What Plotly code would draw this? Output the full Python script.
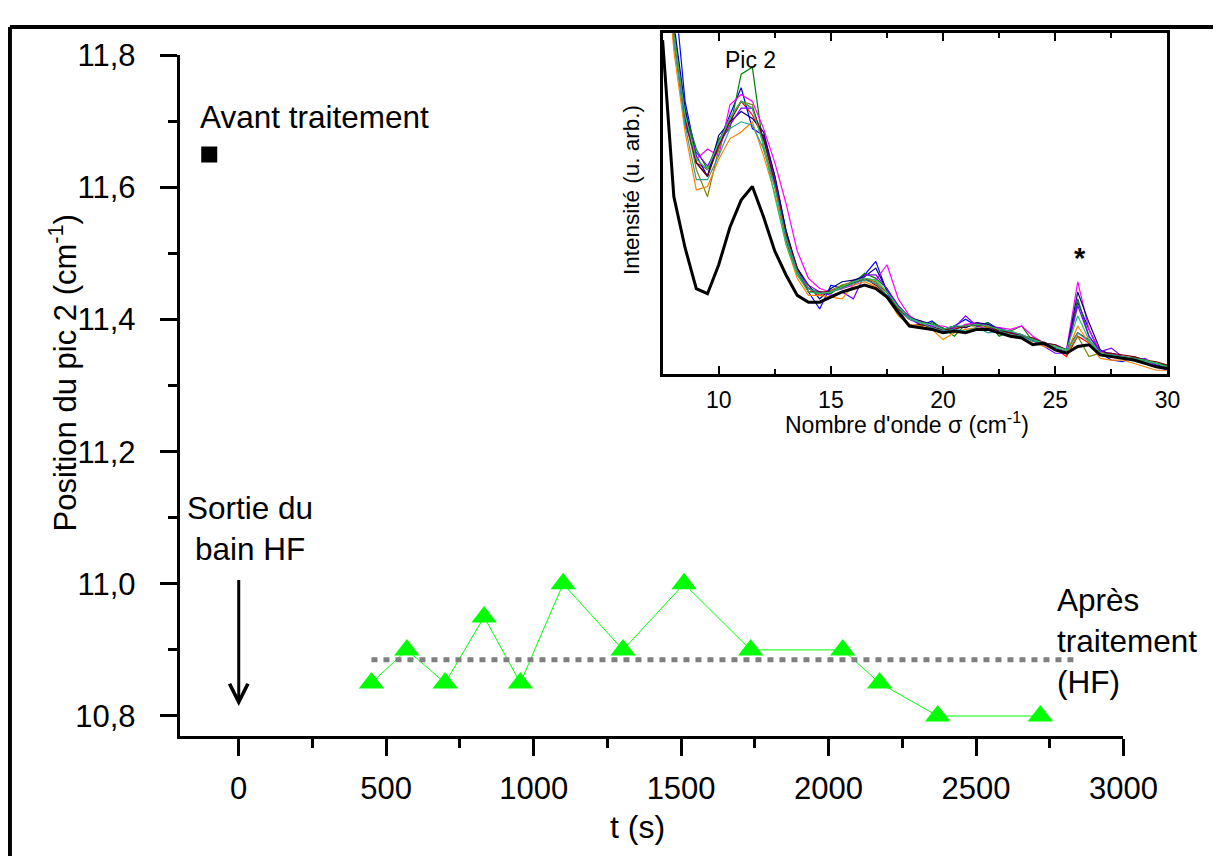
import plotly.graph_objects as go

# ---------------- main panel data ----------------
t_before = [-100]
pos_before = [11.65]

t_after = [450, 570, 700, 832, 955, 1100, 1303, 1510, 1736, 2048, 2173, 2370, 2718]
pos_after = [10.85, 10.90, 10.85, 10.95, 10.85, 11.00, 10.90, 11.00, 10.90, 10.90, 10.85, 10.80, 10.80]

mean_t = [450, 2850]
mean_pos = [10.885, 10.885]

arrow_t = 0
arrow_from = 11.008
arrow_to = 10.815

# ---------------- inset spectra ----------------
sigma = [7.5, 8.0, 8.5, 9.0, 9.5, 10.0, 10.5, 11.0, 11.5, 12.0, 12.5, 13.0, 13.5, 14.0, 14.5,
         15.0, 15.5, 16.0, 16.5, 17.0, 17.5, 18.0, 18.5, 19.0, 19.5, 20.0, 20.5, 21.0, 21.5,
         22.0, 22.5, 23.0, 23.5, 24.0, 24.5, 25.0, 25.5, 26.0, 26.5, 27.0, 27.5, 28.0, 28.5,
         29.0, 29.5, 30.0]

spec_before = [0.98, 0.52, 0.37, 0.25, 0.235, 0.32, 0.43, 0.51, 0.55, 0.46, 0.36, 0.29, 0.23, 0.21, 0.21,
               0.225, 0.24, 0.25, 0.26, 0.25, 0.225, 0.18, 0.14, 0.135, 0.13, 0.12, 0.125, 0.12, 0.13,
               0.13, 0.12, 0.11, 0.105, 0.085, 0.09, 0.07, 0.06, 0.08, 0.085, 0.055, 0.05, 0.045, 0.04,
               0.03, 0.02, 0.015]

spec_red = [1.38, 0.98, 0.74, 0.62, 0.60, 0.66, 0.75, 0.80, 0.76, 0.69, 0.57, 0.41, 0.31, 0.25, 0.23,
            0.245, 0.25, 0.275, 0.28, 0.265, 0.24, 0.19, 0.16, 0.155, 0.135, 0.125, 0.14, 0.135, 0.15,
            0.135, 0.125, 0.12, 0.11, 0.10, 0.085, 0.075, 0.05, 0.11, 0.09, 0.055, 0.05, 0.045, 0.04,
            0.03, 0.02, 0.015]
spec_blue = [1.45, 1.15, 0.80, 0.64, 0.58, 0.68, 0.76, 0.84, 0.72, 0.70, 0.58, 0.42, 0.30, 0.24, 0.19,
             0.26, 0.25, 0.27, 0.29, 0.33, 0.24, 0.18, 0.17, 0.14, 0.155, 0.13, 0.14, 0.16, 0.14,
             0.15, 0.13, 0.125, 0.11, 0.10, 0.09, 0.085, 0.07, 0.21, 0.13, 0.06, 0.04, 0.035, 0.05,
             0.04, 0.025, 0.02]
spec_green = [1.36, 1.01, 0.77, 0.66, 0.60, 0.69, 0.72, 0.88, 0.90, 0.66, 0.55, 0.39, 0.29, 0.25, 0.24,
              0.235, 0.26, 0.265, 0.295, 0.28, 0.25, 0.19, 0.17, 0.14, 0.15, 0.135, 0.11, 0.145, 0.14,
              0.15, 0.11, 0.125, 0.14, 0.095, 0.09, 0.075, 0.065, 0.22, 0.11, 0.065, 0.06, 0.05, 0.04,
              0.04, 0.03, 0.025]
spec_magenta = [1.34, 0.99, 0.74, 0.63, 0.66, 0.64, 0.79, 0.82, 0.80, 0.72, 0.62, 0.50, 0.36, 0.28, 0.25,
                0.24, 0.25, 0.26, 0.28, 0.275, 0.32, 0.22, 0.17, 0.15, 0.14, 0.14, 0.13, 0.145, 0.15,
                0.14, 0.135, 0.13, 0.14, 0.11, 0.09, 0.08, 0.07, 0.27, 0.13, 0.065, 0.06, 0.05, 0.045,
                0.04, 0.02, 0.01]
spec_olive = [1.33, 0.97, 0.76, 0.60, 0.52, 0.66, 0.75, 0.80, 0.79, 0.67, 0.55, 0.41, 0.30, 0.25, 0.235,
              0.245, 0.26, 0.27, 0.28, 0.27, 0.23, 0.185, 0.16, 0.15, 0.13, 0.13, 0.135, 0.14, 0.14,
              0.135, 0.13, 0.115, 0.11, 0.10, 0.085, 0.075, 0.06, 0.11, 0.05, 0.06, 0.055, 0.045, 0.05,
              0.035, 0.03, 0.02]
spec_navy = [1.37, 1.03, 0.78, 0.62, 0.58, 0.70, 0.74, 0.77, 0.75, 0.71, 0.58, 0.42, 0.31, 0.26, 0.22,
             0.25, 0.27, 0.275, 0.285, 0.31, 0.245, 0.20, 0.165, 0.155, 0.145, 0.13, 0.14, 0.135, 0.15,
             0.145, 0.13, 0.12, 0.115, 0.095, 0.085, 0.07, 0.065, 0.24, 0.15, 0.07, 0.055, 0.05, 0.045,
             0.04, 0.03, 0.02]
spec_purple = [1.35, 1.00, 0.73, 0.65, 0.61, 0.67, 0.73, 0.78, 0.78, 0.69, 0.57, 0.40, 0.30, 0.26, 0.24,
               0.23, 0.24, 0.22, 0.29, 0.29, 0.25, 0.20, 0.16, 0.145, 0.14, 0.125, 0.135, 0.17, 0.14,
               0.13, 0.135, 0.12, 0.115, 0.10, 0.08, 0.06, 0.06, 0.20, 0.11, 0.065, 0.075, 0.05, 0.04,
               0.045, 0.025, 0.01]
spec_wine = [1.36, 1.00, 0.75, 0.62, 0.58, 0.67, 0.74, 0.80, 0.78, 0.69, 0.56, 0.41, 0.31, 0.24, 0.24,
             0.24, 0.255, 0.265, 0.28, 0.26, 0.23, 0.19, 0.14, 0.145, 0.135, 0.13, 0.13, 0.14, 0.145,
             0.14, 0.125, 0.12, 0.11, 0.105, 0.09, 0.085, 0.07, 0.12, 0.10, 0.06, 0.06, 0.055, 0.05,
             0.04, 0.035, 0.025]
spec_orange = [1.32, 0.95, 0.71, 0.54, 0.55, 0.63, 0.69, 0.71, 0.74, 0.64, 0.53, 0.38, 0.28, 0.23, 0.23,
               0.225, 0.22, 0.26, 0.27, 0.255, 0.225, 0.17, 0.145, 0.14, 0.13, 0.10, 0.12, 0.13, 0.135,
               0.13, 0.12, 0.115, 0.105, 0.09, 0.08, 0.07, 0.06, 0.14, 0.09, 0.045, 0.04, 0.04, 0.03,
               0.02, 0.01, 0.01]
spec_teal = [1.34, 0.98, 0.73, 0.57, 0.57, 0.64, 0.72, 0.74, 0.73, 0.66, 0.55, 0.40, 0.30, 0.25, 0.235,
             0.24, 0.25, 0.265, 0.275, 0.265, 0.23, 0.185, 0.16, 0.15, 0.135, 0.125, 0.13, 0.125, 0.135,
             0.12, 0.125, 0.115, 0.11, 0.095, 0.09, 0.075, 0.065, 0.12, 0.095, 0.06, 0.05, 0.045, 0.04,
             0.035, 0.03, 0.02]
spec_lime = [1.36, 1.00, 0.76, 0.63, 0.60, 0.68, 0.75, 0.80, 0.78, 0.67, 0.52, 0.38, 0.29, 0.24, 0.235,
             0.24, 0.255, 0.27, 0.28, 0.275, 0.24, 0.195, 0.165, 0.15, 0.145, 0.13, 0.14, 0.14, 0.145,
             0.14, 0.13, 0.125, 0.115, 0.10, 0.09, 0.08, 0.07, 0.17, 0.10, 0.06, 0.055, 0.05, 0.045,
             0.04, 0.03, 0.02]

treated = [
    (spec_red, "#FF0000"), (spec_blue, "#0000FF"), (spec_green, "#008000"),
    (spec_magenta, "#FF00FF"), (spec_olive, "#808000"), (spec_navy, "#000080"),
    (spec_purple, "#8000FF"), (spec_wine, "#800000"), (spec_orange, "#FF8000"),
    (spec_teal, "#2A9D9D"), (spec_lime, "#22C55E"),
]

# mapping from target screenshot pixels to figure fractions (empirical page offset/scale)
SX, SY = 0.973, 0.979
OX, OY = 8.2, 24.7
W, H = 1247, 849


def px(x):
    return ((x - OX) / SX) / W


def py(y):
    return 1 - ((y - OY) / SY) / H


FONT = "Liberation Sans, Arial, sans-serif"

fig = go.Figure()

# main traces
fig.add_trace(go.Scatter(x=t_after, y=pos_after, mode="lines+markers",
                         line=dict(color="#00FF00", width=1),
                         marker=dict(symbol="triangle-up", size=22, color="#00FF00"),
                         xaxis="x", yaxis="y", showlegend=False, cliponaxis=False))
fig.add_trace(go.Scatter(x=mean_t, y=mean_pos, mode="lines",
                         line=dict(color="#808080", width=5, dash="6px,6px"),
                         xaxis="x", yaxis="y", showlegend=False))
fig.add_trace(go.Scatter(x=t_before, y=pos_before, mode="markers",
                         marker=dict(symbol="square", size=16, color="black"),
                         xaxis="x", yaxis="y", showlegend=False))

# inset traces
for vals, col in treated:
    fig.add_trace(go.Scatter(x=sigma, y=vals, mode="lines", line=dict(color=col, width=1.2),
                             xaxis="x2", yaxis="y2", showlegend=False))
fig.add_trace(go.Scatter(x=sigma, y=spec_before, mode="lines", line=dict(color="black", width=3),
                         xaxis="x2", yaxis="y2", showlegend=False))

tickfont = dict(family=FONT, size=31, color="black")
insetfont = dict(family=FONT, size=23, color="black")

fig.update_layout(
    width=W, height=H,
    margin=dict(l=0, r=0, t=0, b=0),
    paper_bgcolor="white", plot_bgcolor="white",
    separators=", ",
    font=dict(family=FONT, color="black"),
    xaxis=dict(domain=[px(180), px(1124)], range=[-200, 3000], anchor="y",
               showline=True, linewidth=3, linecolor="black", showgrid=False, zeroline=False,
               ticks="outside", ticklen=17, tickwidth=3, tickcolor="black",
               tick0=0, dtick=500, tickfont=tickfont, ticklabelstandoff=6,
               minor=dict(ticks="outside", ticklen=9, tickwidth=3, dtick=250, tick0=0, tickcolor="black")),
    yaxis=dict(domain=[py(735), py(55)], range=[10.7697, 11.8], anchor="x",
               showline=True, linewidth=3, linecolor="black", showgrid=False, zeroline=False,
               ticks="outside", ticklen=17, tickwidth=3, tickcolor="black",
               tick0=10.8, dtick=0.2, tickformat=".1f", tickfont=tickfont, ticklabelstandoff=18,
               minor=dict(ticks="outside", ticklen=9, tickwidth=3, dtick=0.1, tick0=10.8, tickcolor="black")),
    xaxis2=dict(domain=[px(663), px(1168)], range=[7.5, 30], anchor="y2",
                showline=True, linewidth=2.5, linecolor="black", mirror="ticks", showgrid=False, zeroline=False,
                ticks="inside", ticklen=8, tickwidth=2, tickcolor="black",
                tick0=0, dtick=5, tickfont=insetfont, ticklabelstandoff=4,
                minor=dict(ticks="inside", ticklen=5, tickwidth=1.5, dtick=2.5, tick0=0, tickcolor="black")),
    yaxis2=dict(domain=[py(373), py(33)], range=[0, 1], anchor="x2",
                showline=True, linewidth=2.5, linecolor="black", mirror=True, showgrid=False, zeroline=False,
                ticks="", showticklabels=False),
)

ann = []


def text(x, y, s, size=30, xanchor="center", angle=0, align="center"):
    ann.append(dict(x=x, y=y, xref="paper", yref="paper", text=s, showarrow=False,
                    xanchor=xanchor, yanchor="middle", textangle=angle, align=align,
                    font=dict(family=FONT, size=size, color="black")))


text(px(63), py(372), "Position du pic 2 (cm<sup>-1</sup>)", size=31, angle=-90)
text(px(638), py(826), "t (s)", size=32)
text(px(198), py(117), "Avant traitement", size=31.5, xanchor="left")
text(px(250), py(528), "Sortie du<br>bain HF", size=31.5)
text(px(1055), py(640), "Après<br>traitement<br>(HF)", size=31.5, xanchor="left", align="left")
text(px(751), py(60), "Pic 2", size=23)
text(px(1080), py(257), "<b>*</b>", size=29)
text(px(907), py(422), "Nombre d'onde σ (cm<sup>-1</sup>)", size=23)
text(px(632), py(190), "Intensité (u. arb.)", size=22.5, angle=-90)

ann.append(dict(x=arrow_t, y=arrow_to, ax=arrow_t, ay=arrow_from, xref="x", yref="y",
                axref="x", ayref="y", showarrow=True, arrowhead=5, arrowsize=1.2,
                arrowwidth=3, arrowcolor="black", standoff=0, text=""))
fig.update_layout(annotations=ann)

# outer frame (top and left edges)
fig.add_shape(type="line", xref="paper", yref="paper", x0=2 / W, x1=1.0, y0=1 - 2 / H, y1=1 - 2 / H,
              line=dict(color="black", width=4))
fig.add_shape(type="line", xref="paper", yref="paper", x0=2 / W, x1=2 / W, y0=1 - 2 / H, y1=0,
              line=dict(color="black", width=4))

fig.write_html("out.html")
